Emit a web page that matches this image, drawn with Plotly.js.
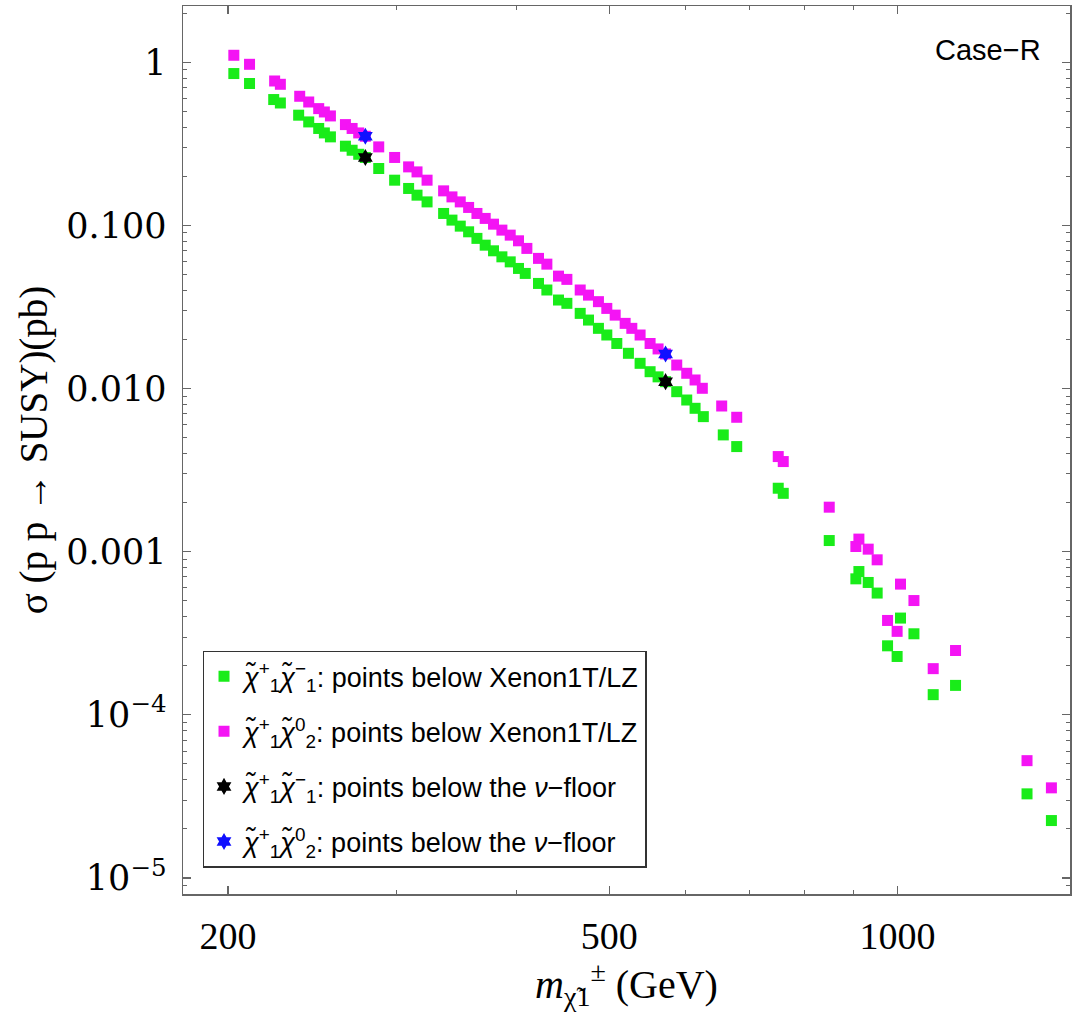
<!DOCTYPE html>
<html>
<head>
<meta charset="utf-8">
<script src="https://cdn.plot.ly/plotly-3.0.1.min.js"></script>
<style>html,body{margin:0;padding:0;background:#fff;}#chart{width:1084px;height:1012px;}</style>
</head>
<body>
<div id="chart"></div>
<script>
// chargino mass (GeV) and cross sections (pb)
const massC1C1 = [202.8,210.6,223.2,226.8,237.0,242.8,248.7,252.1,255.8,265.2,269.5,273.8,278.2,287.3,298.5,308.7,315.0,322.7,335.8,342.6,349.5,356.6,363.8,371.1,378.6,386.3,394.1,402.0,408.6,421.8,430.4,442.6,451.6,466.3,475.7,487.2,497.1,509.2,523.6,538.5,551.6,562.3,572.5,588.1,602.4,614.6,626.9,657.7,679.3,750.6,759.7,848.5,911.2,904.6,931.8,952.1,1007.1,1040.1,976.2,998.9,1149.5,1089.4,1365,1447.4];
const sigmaC1C1 = [0.853,0.741,0.591,0.563,0.474,0.431,0.393,0.369,0.349,0.306,0.289,0.273,0.261,0.2234,0.1894,0.1685,0.1533,0.1394,0.1184,0.1078,0.0990,0.0914,0.0833,0.0757,0.0699,0.0642,0.0598,0.0545,0.0508,0.0441,0.0402,0.0349,0.0333,0.0289,0.0263,0.0234,0.0213,0.0189,0.01645,0.01428,0.01269,0.0118,0.01102,0.00957,0.00851,0.00757,0.00673,0.00520,0.00441,0.00245,0.00228,0.001171,0.000756,0.000682,0.000648,0.000558,0.000392,0.000314,0.000265,0.000228,0.0001516,0.000133,3.28e-5,2.25e-5];

const massC1N2 = [202.8,210.6,223.7,226.8,237.6,242.8,248.7,252.1,255.8,265.2,269.5,273.8,278.2,287.3,298.5,308.7,315.0,322.7,335.8,342.6,349.5,356.6,363.8,371.1,378.6,386.3,394.1,402.0,410.2,421.8,430.4,442.6,451.6,466.3,475.7,487.2,497.1,507.2,519.5,527.9,538.5,551.6,562.3,572.5,588.1,602.4,614.6,625.4,655.2,679.3,750.6,759.7,848.5,911.2,904.6,931.8,952.1,1007.1,1040.1,976.2,998.9,1149.5,1089.4,1365,1447.4];
const sigmaC1N2 = [1.104,0.972,0.768,0.733,0.619,0.571,0.520,0.496,0.469,0.415,0.393,0.369,0.352,0.303,0.261,0.2285,0.2129,0.1894,0.1629,0.1496,0.1394,0.1289,0.1184,0.1104,0.1018,0.0936,0.0872,0.0805,0.0723,0.0628,0.0579,0.0489,0.0467,0.0402,0.0374,0.0341,0.0310,0.0282,0.0251,0.0234,0.0213,0.0189,0.0175,0.0163,0.01394,0.01241,0.01129,0.01004,0.00782,0.00667,0.00383,0.00357,0.001875,0.001195,0.001076,0.001037,0.000892,0.000633,0.000502,0.000379,0.000325,0.000248,0.000192,5.24e-5,3.57e-5];

const massFloorC1C1 = [278.2, 572.5];
const sigmaFloorC1C1 = [0.261, 0.01102];
const massFloorC1N2 = [278.2, 572.5];
const sigmaFloorC1N2 = [0.352, 0.0163];

const legendNames = [
  "<i>χ̃</i><sup>+</sup><sub>1</sub><i>χ̃</i><sup>−</sup><sub>1</sub>: points below Xenon1T/LZ",
  "<i>χ̃</i><sup>+</sup><sub>1</sub><i>χ̃</i><sup>0</sup><sub>2</sub>: points below Xenon1T/LZ",
  "<i>χ̃</i><sup>+</sup><sub>1</sub><i>χ̃</i><sup>−</sup><sub>1</sub>: points below the <i>ν</i>−floor",
  "<i>χ̃</i><sup>+</sup><sub>1</sub><i>χ̃</i><sup>0</sup><sub>2</sub>: points below the <i>ν</i>−floor"
];

const yTickVals = [1, 0.1, 0.01, 0.001, 1e-4, 1e-5];
const yTickText = ["1", "0.100", "0.010", "0.001", "10<sup>−4</sup>", "10<sup>−5</sup>"];
const xTickVals = [200, 500, 1000];
const xTickText = ["200", "500", "1000"];
const xMinorVals = [300, 400, 600, 700, 800, 900];
const yMinorMult = [2,3,4,5,6,7,8,9];
const yDecades = [1e-6, 1e-5, 1e-4, 1e-3, 1e-2, 1e-1, 1];

const yMinorVals = [];
yDecades.forEach(d => yMinorMult.forEach(m => yMinorVals.push(d*m)));

const traces = [
  {x: massC1C1, y: sigmaC1C1, type: 'scatter', mode: 'markers', name: legendNames[0], legendgroup: 'a',
   marker: {symbol: 'square', size: 11, color: '#19ec19'}},
  {x: massC1N2, y: sigmaC1N2, type: 'scatter', mode: 'markers', name: legendNames[1], legendgroup: 'b',
   marker: {symbol: 'square', size: 11, color: '#f414f4'}},
  {x: massFloorC1C1, y: sigmaFloorC1C1, type: 'scatter', mode: 'markers', name: legendNames[2], legendgroup: 'c',
   marker: {symbol: 'hexagram', size: 13, color: '#000000'}},
  {x: massFloorC1N2, y: sigmaFloorC1N2, type: 'scatter', mode: 'markers', name: legendNames[3], legendgroup: 'd',
   marker: {symbol: 'hexagram', size: 13, color: '#1010ff'}}
];

const axisCommon = {
  showgrid: false, zeroline: false, showline: true, linecolor: '#666', linewidth: 1.5,
  mirror: 'ticks', ticks: 'inside', ticklen: 8, tickwidth: 1.2, tickcolor: '#666'
};

const layout = {
  width: 1084, height: 1012,
  margin: {l: 183, r: 14, t: 6, b: 118},
  paper_bgcolor: '#fff', plot_bgcolor: '#fff',
  showlegend: true,
  xaxis: Object.assign({}, axisCommon, {
    type: 'log', range: [2.254, 3.180],
    tickmode: 'array', tickvals: xTickVals, ticktext: xTickText,
    tickfont: {family: 'Liberation Serif', size: 38, color: '#000'},
    ticklabelstandoff: 8,
    minor: {tickmode: 'array', tickvals: xMinorVals, ticks: 'inside', ticklen: 4, tickcolor: '#666', tickwidth: 1},
    title: {text: '<i>m</i><sub>χ̃1</sub><sup>±</sup> (GeV)', font: {family: 'Liberation Serif', size: 40, color: '#000'}, standoff: 16}
  }),
  yaxis: Object.assign({}, axisCommon, {
    type: 'log', range: [-5.098, 0.345],
    tickmode: 'array', tickvals: yTickVals, ticktext: yTickText,
    tickfont: {family: 'DejaVu Serif', size: 35, color: '#000'},
    ticklabelstandoff: 8,
    minor: {tickmode: 'array', tickvals: yMinorVals, ticks: 'inside', ticklen: 4, tickcolor: '#666', tickwidth: 1},
    title: {text: 'σ (p p → SUSY)(pb)', font: {family: 'Liberation Serif', size: 39, color: '#000'}, standoff: 6}
  }),
  legend: {
    x: 0.022, y: 0.274, xanchor: 'left', yanchor: 'top',
    bgcolor: '#fff', bordercolor: '#333', borderwidth: 1.5,
    font: {family: 'Liberation Sans', size: 27, color: '#000'},
    tracegroupgap: 17
  },
  annotations: [
    {text: 'Case−R', xref: 'paper', yref: 'paper', x: 0.97, y: 0.951, xanchor: 'right', yanchor: 'middle',
     showarrow: false, font: {family: 'Liberation Sans', size: 29, color: '#000'}}
  ]
};

Plotly.newPlot('chart', traces, layout, {displayModeBar: false, staticPlot: true});
</script>
</body>
</html>
